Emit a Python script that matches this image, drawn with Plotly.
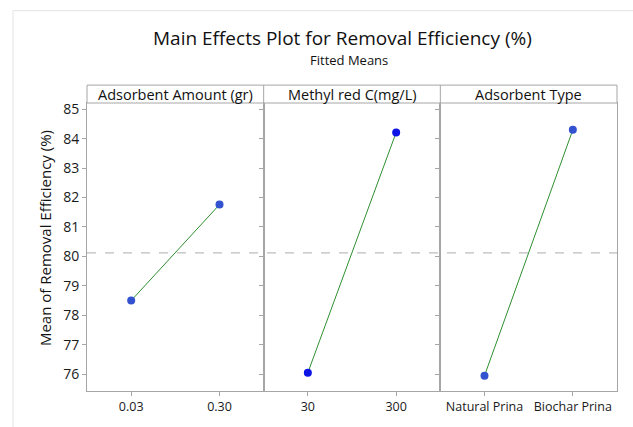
import plotly.graph_objects as go
from plotly.subplots import make_subplots

# ---- data ----
factors = ["Adsorbent Amount (gr)", "Methyl red C(mg/L)", "Adsorbent Type"]
levels_amount = ["0.03", "0.30"]
levels_mr = ["30", "300"]
levels_type = ["Natural Prina", "Biochar Prina"]
means_amount = [78.50, 81.76]
means_mr = [76.05, 84.21]
means_type = [75.95, 84.30]
overall_mean = 80.12
y_ticks = [76, 77, 78, 79, 80, 81, 82, 83, 84, 85]

levels = [levels_amount, levels_mr, levels_type]
means = [means_amount, means_mr, means_type]
marker_colors = ["#3352cf", "#0c14e6", "#3352cf"]

FONT = "Open Sans, Noto Sans, sans-serif"
GRID = "#a6a6a6"

fig = make_subplots(rows=1, cols=3, shared_yaxes=True, horizontal_spacing=0)

for i in range(3):
    fig.add_trace(go.Scatter(
        x=levels[i], y=means[i], mode="lines+markers",
        line=dict(color="#2f8f2f", width=1),
        marker=dict(color=marker_colors[i], size=8),
        showlegend=False, hoverinfo="x+y"), row=1, col=i + 1)
    fig.update_xaxes(type="category", range=[-0.5, 1.5],
                     showline=True, mirror=True, linecolor=GRID, linewidth=1,
                     ticks="outside", ticklen=4, tickcolor=GRID,
                     showgrid=False, zeroline=False,
                     tickfont=dict(size=12.5, color="#1a1a1a", family=FONT),
                     row=1, col=i + 1)

fig.update_yaxes(range=[75.43, 85.21], tickvals=y_ticks,
                 showline=True, mirror=True, linecolor=GRID, linewidth=1,
                 ticks="outside", ticklen=4, tickcolor=GRID,
                 showgrid=False, zeroline=False,
                 tickfont=dict(size=14, color="#1a1a1a", family=FONT))

# reference line across all panels
fig.add_shape(type="line", xref="paper", yref="y", x0=0, x1=1,
              y0=overall_mean, y1=overall_mean,
              line=dict(color="#bdbdbd", width=1.3, dash="dash"), layer="below")

W, H = 530.0, 290.0
def px(x):
    return (x - 87) / W
def py(y):
    return (393 - y) / H

strip_top = py(85)
# strip box
fig.add_shape(type="rect", xref="paper", yref="paper", x0=0, x1=1, y0=1, y1=strip_top,
              line=dict(color=GRID, width=1), fillcolor="white")
for k in (1, 2):
    fig.add_shape(type="line", xref="paper", yref="paper", x0=k / 3, x1=k / 3,
                  y0=1, y1=strip_top, line=dict(color=GRID, width=1))
for k, name in enumerate(factors):
    fig.add_annotation(text=name, xref="paper", yref="paper", x=(k + 0.5) / 3,
                       y=(1 + strip_top) / 2, showarrow=False,
                       xanchor="center", yanchor="middle",
                       font=dict(size=14.5, color="#111111", family=FONT))

# outer light frame
fig.add_shape(type="line", xref="paper", yref="paper", x0=px(13), x1=px(13),
              y0=py(10), y1=py(440), line=dict(color="#e3e3e3", width=1))
fig.add_shape(type="line", xref="paper", yref="paper", x0=px(13), x1=px(660),
              y0=py(10), y1=py(10), line=dict(color="#e3e3e3", width=1))

# titles
fig.add_annotation(text="Main Effects Plot for Removal Efficiency (%)", xref="paper", yref="paper",
                   x=px(342), y=py(38), showarrow=False, xanchor="center", yanchor="middle",
                   font=dict(size=19, color="#111111", family=FONT))
fig.add_annotation(text="Fitted Means", xref="paper", yref="paper",
                   x=px(349), y=py(60), showarrow=False, xanchor="center", yanchor="middle",
                   font=dict(size=13, color="#111111", family=FONT))
fig.add_annotation(text="Mean of Removal Efficiency (%)", xref="paper", yref="paper",
                   x=px(45), y=py(239), showarrow=False, textangle=-90,
                   xanchor="center", yanchor="middle",
                   font=dict(size=15, color="#111111", family=FONT))

fig.update_layout(width=633, height=427, margin=dict(l=87, r=16, t=103, b=34),
                  plot_bgcolor="white", paper_bgcolor="white",
                  font=dict(family=FONT))

fig.write_html("out.html")
